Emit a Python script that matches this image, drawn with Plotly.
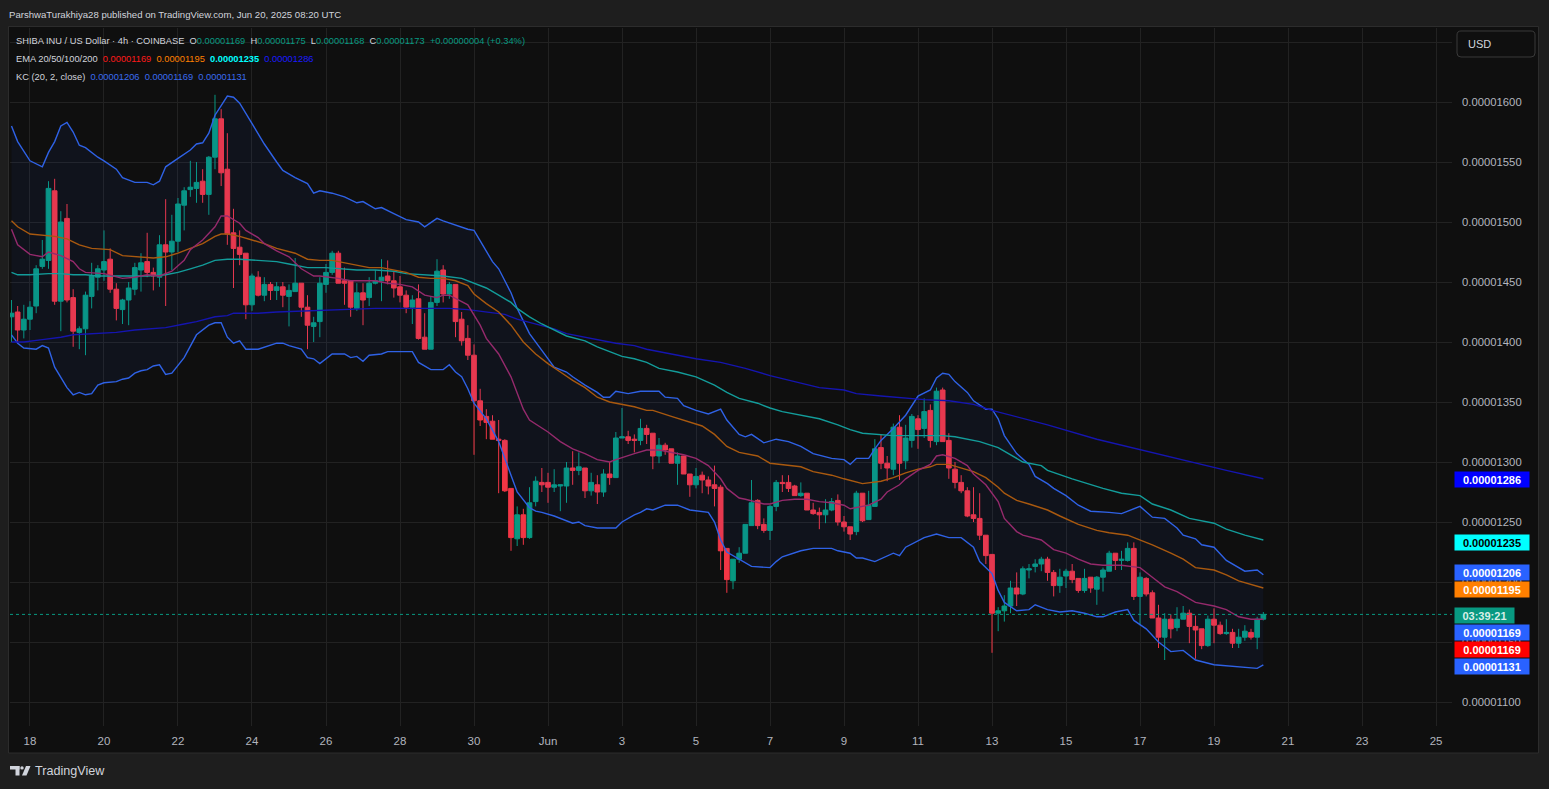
import plotly.graph_objects as go
import pandas as pd

W, H = 1549, 789
S = 1e-8  # all prices below are in units of 0.00000001 USD

# ---------------- data (SHIB/USD 4h, Coinbase) ----------------
FIRST_CANDLE = "2025-05-17 12:00"

OPEN = [1421,1425,1410,1419,1430,1463,1468,1526,1434,1503,
        1437,1408,1411,1438,1454,1460,1469,1444,1427,1435,
        1444,1460,1467,1458,1454,1481,1475,1484,1514,1527,
        1528,1534,1523,1554,1586,1544,1491,1479,1474,1431,
        1454,1439,1448,1443,1446,1438,1442,1449,1429,1413,
        1417,1448,1458,1474,1451,1451,1428,1441,1437,1449,
        1451,1455,1451,1446,1439,1429,1436,1404,1394,1433,
        1460,1440,1448,1419,1403,1389,1351,1338,1334,1319,
        1318,1278,1236,1256,1237,1267,1283,1283,1279,1280,
        1280,1295,1293,1295,1276,1281,1275,1290,1287,1320,
        1321,1319,1318,1328,1324,1305,1314,1311,1299,1305,
        1290,1281,1289,1285,1281,1279,1228,1201,1219,1224,
        1247,1268,1248,1243,1263,1283,1283,1280,1272,1274,
        1260,1258,1256,1260,1268,1250,1246,1242,1274,1252,
        1263,1312,1299,1294,1329,1301,1318,1336,1328,1343,
        1317,1360,1318,1294,1283,1276,1256,1253,1239,1223,
        1174,1176,1180,1195,1190,1210,1213,1215,1219,1208,
        1197,1205,1209,1203,1193,1204,1194,1204,1209,1224,
        1218,1218,1228,1188,1203,1191,1170,1154,1169,1162,
        1169,1174,1163,1161,1147,1169,1164,1157,1158,1149,
        1154,1158,1154,1169]
HIGH = [1435,1430,1431,1434,1464,1485,1534,1536,1509,1515,
        1444,1413,1442,1466,1464,1493,1478,1449,1436,1450,
        1466,1474,1491,1462,1489,1519,1506,1520,1529,1551,
        1550,1544,1555,1606,1594,1574,1511,1493,1474,1457,
        1459,1454,1450,1450,1450,1448,1470,1449,1439,1421,
        1454,1465,1476,1476,1462,1451,1449,1449,1454,1460,
        1469,1468,1459,1455,1443,1439,1448,1424,1438,1469,
        1464,1450,1448,1425,1414,1398,1361,1344,1339,1335,
        1319,1278,1263,1261,1279,1288,1295,1291,1294,1281,
        1300,1309,1308,1295,1291,1289,1294,1300,1325,1345,
        1326,1323,1336,1331,1324,1320,1316,1311,1308,1305,
        1290,1295,1292,1288,1297,1281,1228,1219,1229,1248,
        1285,1269,1253,1264,1285,1289,1289,1281,1283,1274,
        1266,1262,1269,1270,1273,1255,1246,1276,1274,1276,
        1319,1323,1305,1332,1339,1331,1340,1339,1353,1348,
        1362,1362,1324,1300,1289,1279,1279,1274,1239,1223,
        1179,1189,1201,1208,1213,1215,1219,1221,1221,1210,
        1211,1211,1215,1203,1211,1204,1205,1212,1226,1224,
        1226,1233,1233,1208,1204,1193,1181,1174,1173,1179,
        1180,1177,1172,1161,1172,1178,1167,1169,1161,1161,
        1164,1161,1171,1175]
LOW = [1400,1399,1403,1410,1424,1461,1461,1431,1409,1433,
       1396,1394,1389,1428,1443,1451,1441,1418,1415,1414,
       1439,1442,1454,1443,1446,1430,1460,1475,1493,1521,
       1516,1516,1506,1544,1530,1481,1445,1464,1419,1426,
       1438,1434,1435,1435,1429,1413,1442,1421,1394,1400,
       1404,1441,1456,1449,1431,1421,1426,1414,1430,1448,
       1434,1448,1437,1433,1424,1415,1402,1394,1394,1430,
       1433,1436,1404,1397,1385,1306,1330,1319,1319,1274,
       1275,1226,1230,1231,1236,1263,1275,1266,1275,1259,
       1266,1281,1289,1270,1272,1265,1271,1281,1287,1320,
       1315,1308,1314,1315,1294,1299,1306,1299,1281,1290,
       1271,1278,1274,1273,1263,1210,1191,1194,1216,1224,
       1247,1244,1241,1235,1259,1275,1275,1272,1271,1260,
       1256,1244,1249,1259,1247,1242,1235,1239,1250,1252,
       1263,1294,1284,1289,1285,1294,1312,1311,1320,1312,
       1314,1317,1286,1278,1274,1254,1250,1235,1215,1141,
       1159,1167,1174,1180,1189,1203,1208,1209,1201,1188,
       1191,1195,1199,1191,1191,1191,1181,1192,1209,1210,
       1210,1217,1185,1164,1188,1170,1145,1135,1153,1159,
       1169,1149,1136,1144,1146,1149,1156,1156,1145,1145,
       1151,1152,1144,1168]
CLOSE = [1424,1410,1419,1429,1461,1469,1528,1434,1500,1435,
         1409,1411,1439,1455,1461,1467,1444,1428,1435,1445,
         1462,1466,1458,1455,1481,1475,1484,1515,1526,1529,
         1533,1523,1554,1586,1541,1490,1478,1473,1431,1455,
         1439,1448,1443,1446,1439,1443,1449,1429,1414,1416,
         1449,1458,1474,1449,1449,1429,1441,1435,1449,1451,
         1454,1451,1445,1439,1429,1435,1403,1394,1433,1459,
         1440,1448,1417,1401,1389,1351,1335,1333,1319,1318,
         1276,1237,1256,1237,1266,1284,1281,1279,1281,1281,
         1295,1293,1296,1276,1283,1275,1290,1287,1320,1321,
         1318,1318,1328,1323,1305,1314,1310,1299,1305,1290,
         1281,1288,1285,1280,1278,1226,1202,1219,1224,1248,
         1266,1247,1243,1263,1283,1282,1278,1272,1274,1260,
         1257,1256,1260,1267,1250,1246,1240,1274,1251,1264,
         1311,1299,1295,1329,1299,1320,1338,1327,1342,1318,
         1359,1317,1295,1283,1276,1255,1253,1239,1222,1174,
         1176,1180,1195,1190,1211,1211,1215,1219,1208,1197,
         1204,1209,1202,1193,1203,1195,1204,1210,1224,1218,
         1219,1228,1188,1204,1190,1170,1154,1169,1161,1169,
         1174,1163,1160,1147,1169,1164,1157,1158,1149,1154,
         1159,1154,1169,1173]

# indicator readings: (candle index, value)
KC_UPPER = [(0,1580),(1,1567),(3,1551),(5,1546),(6,1558),(7,1567),(8,1580),(9,1583),(10,1575),(11,1564),
            (12,1562),(14,1554),(15,1551),(17,1544),(18,1537),(20,1533),(22,1533),(23,1531),(24,1534),(25,1546),
            (27,1553),(29,1560),(30,1565),(31,1566),(32,1574),(33,1589),(35,1605),(36,1604),(37,1599),(39,1582),
            (41,1565),(43,1550),(44,1543),(46,1537),(48,1532),(49,1524),(50,1526),(52,1524),(54,1521),(56,1516),
            (57,1517),(59,1511),(60,1512),(62,1507),(64,1502),(66,1500),(67,1496),(69,1503),(70,1501),(74,1494),
            (75,1493),(78,1467),(79,1461),(80,1451),(81,1441),(82,1428),(83,1417),(84,1407),(86,1393),(88,1379),
            (90,1375),(91,1371),(93,1364),(95,1358),(96,1354),(97,1354),(98,1359),(100,1357),(102,1359),(105,1359),
            (106,1354),(108,1353),(109,1347),(111,1343),(113,1340),(115,1344),(116,1335),(118,1323),(119,1321),(120,1323),
            (122,1316),(124,1319),(126,1317),(128,1313),(130,1307),(133,1303),(135,1302),(136,1298),(137,1303),(139,1303),
            (140,1311),(141,1318),(143,1328),(145,1339),(147,1355),(149,1360),(150,1370),(151,1374),(152,1373),(153,1367),
            (155,1358),(156,1351),(158,1344),(159,1344),(160,1336),(161,1322),(163,1307),(165,1298),(166,1288),(168,1282),
            (169,1278),(171,1272),(173,1264),(175,1259),(178,1258),(180,1257),(183,1263),(185,1254),(187,1253),(189,1245),
            (190,1239),(192,1236),(193,1231),(195,1229),(197,1218),(200,1209),(202,1210),(203,1206)]
KC_LOWER = [(0,1406),(1,1399),(2,1395),(4,1394),(5,1397),(6,1395),(7,1379),(9,1362),(10,1356),(11,1358),
            (12,1356),(13,1357),(14,1364),(15,1366),(17,1367),(18,1369),(19,1370),(20,1374),(21,1376),(22,1377),
            (23,1380),(24,1381),(25,1373),(26,1374),(28,1387),(30,1406),(32,1414),(33,1416),(34,1416),(35,1404),
            (36,1399),(37,1401),(38,1394),(40,1394),(43,1399),(44,1399),(45,1397),(47,1394),(48,1387),(49,1386),
            (50,1382),(52,1390),(54,1390),(55,1387),(56,1388),(57,1384),(58,1389),(60,1390),(61,1392),(64,1392),
            (65,1392),(66,1383),(68,1377),(70,1377),(71,1381),(72,1375),(73,1371),(74,1361),(75,1349),(77,1336),
            (79,1317),(81,1289),(82,1275),(84,1262),(85,1259),(86,1258),(88,1255),(91,1249),(92,1250),(93,1247),
            (95,1245),(98,1245),(99,1250),(101,1256),(102,1258),(103,1261),(104,1260),(106,1264),(108,1264),(110,1260),
            (113,1258),(114,1250),(115,1235),(116,1225),(118,1219),(120,1213),(123,1212),(124,1217),(125,1221),(128,1226),
            (130,1228),(133,1228),(134,1226),(136,1224),(137,1220),(138,1220),(140,1217),(142,1222),(143,1224),(144,1222),
            (145,1229),(148,1237),(150,1240),(152,1237),(154,1237),(156,1229),(157,1217),(159,1207),(160,1193),(161,1183),
            (163,1176),(165,1177),(166,1181),(168,1177),(170,1175),(172,1176),(174,1174),(176,1171),(177,1171),(179,1175),
            (181,1177),(182,1168),(184,1161),(186,1150),(188,1142),(190,1143),(192,1135),(195,1131),(197,1130),(200,1129),
            (202,1128),(203,1131)]
EMA20 = [(0,1494),(1,1481),(3,1473),(5,1471),(6,1475),(8,1472),(10,1467),(11,1461),(12,1458),(15,1457),
         (18,1453),(20,1454),(22,1456),(24,1455),(26,1459),(28,1468),(29,1477),(31,1485),(33,1496),(34,1505),
         (35,1505),(37,1499),(38,1493),(40,1487),(41,1482),(43,1476),(45,1471),(47,1461),(49,1455),(50,1455),
         (53,1453),(55,1451),(57,1451),(59,1451),(61,1449),(63,1448),(65,1446),(67,1439),(68,1438),(69,1437),
         (70,1439),(71,1439),(74,1431),(76,1414),(77,1403),(79,1390),(81,1371),(83,1344),(84,1335),(87,1325),
         (89,1317),(91,1311),(93,1307),(95,1302),(97,1300),(98,1302),(101,1307),(103,1310),(105,1310),(107,1308),
         (109,1306),(111,1303),(113,1297),(115,1286),(116,1278),(118,1270),(119,1269),(122,1265),(123,1265),(125,1268),
         (127,1269),(129,1269),(131,1267),(133,1266),(135,1264),(136,1261),(137,1262),(139,1264),(141,1269),(142,1275),
         (144,1281),(145,1286),(147,1293),(149,1298),(150,1305),(151,1306),(153,1303),(155,1297),(156,1290),(158,1281),
         (160,1267),(161,1253),(163,1242),(164,1239),(167,1235),(168,1231),(169,1227),(171,1224),(173,1219),(175,1215),
         (177,1214),(180,1214),(183,1212),(185,1204),(187,1196),(189,1192),(192,1183),(195,1180),(197,1177),(199,1171),
         (201,1169),(203,1169)]
EMA50 = [(0,1501),(1,1496),(3,1490),(5,1489),(7,1488),(9,1486),(11,1481),(13,1478),(16,1477),(18,1472),
         (21,1471),(23,1470),(25,1471),(27,1474),(29,1478),(31,1482),(33,1488),(34,1490),(35,1490),(37,1488),
         (39,1485),(41,1482),(43,1478),(46,1474),(48,1469),(50,1468),(52,1468),(54,1466),(56,1464),(58,1462),
         (60,1462),(62,1460),(64,1458),(66,1454),(68,1453),(70,1453),(72,1451),(74,1447),(75,1440),(77,1432),
         (79,1425),(81,1414),(83,1400),(85,1390),(87,1382),(89,1375),(91,1368),(93,1362),(95,1354),(97,1350),
         (99,1348),(101,1346),(103,1343),(104,1343),(107,1338),(110,1333),(112,1330),(114,1323),(116,1313),(118,1308),
         (121,1305),(123,1299),(125,1298),(128,1296),(130,1292),(133,1289),(135,1286),(137,1283),(138,1282),(141,1284),
         (143,1287),(145,1291),(147,1294),(149,1296),(150,1298),(152,1298),(154,1295),(156,1292),(158,1287),(160,1279),
         (161,1274),(163,1268),(165,1265),(168,1260),(170,1255),(173,1248),(176,1243),(178,1241),(181,1239),(183,1235),
         (185,1231),(188,1224),(190,1219),(192,1212),(195,1210),(197,1206),(199,1201),(203,1195)]
EMA100 = [(0,1458),(1,1456),(3,1456),(6,1457),(8,1457),(10,1456),(12,1456),(14,1455),(16,1455),(20,1455),
          (22,1455),(25,1456),(27,1458),(29,1461),(31,1464),(33,1468),(35,1469),(37,1469),(40,1468),(43,1467),
          (45,1465),(48,1462),(51,1462),(54,1461),(56,1460),(59,1460),(62,1459),(64,1457),(67,1456),(70,1455),
          (73,1453),(75,1449),(77,1445),(79,1439),(81,1433),(82,1428),(84,1421),(86,1415),(88,1410),(90,1405),
          (93,1401),(95,1396),(97,1392),(99,1388),(101,1386),(103,1383),(105,1378),(108,1375),(111,1371),(114,1364),
          (116,1358),(118,1353),(121,1349),(123,1345),(125,1342),(128,1339),(131,1336),(134,1331),(136,1327),(138,1324),
          (141,1323),(143,1322),(146,1322),(149,1322),(151,1322),(153,1321),(155,1319),(157,1317),(160,1312),(162,1306),
          (164,1300),(167,1297),(168,1293),(172,1286),(177,1278),(180,1274),(183,1272),(185,1265),(188,1260),(191,1253),
          (195,1249),(197,1244),(200,1239),(203,1235)]
EMA200 = [(0,1400),(2,1400),(5,1402),(8,1404),(10,1406),(14,1407),(17,1408),(20,1410),(22,1411),(25,1412),
          (28,1415),(30,1417),(33,1421),(35,1422),(36,1424),(40,1424),(43,1425),(48,1426),(54,1427),(59,1428),
          (64,1428),(71,1428),(74,1427),(77,1425),(80,1423),(82,1419),(85,1415),(88,1411),(90,1407),(93,1404),
          (96,1401),(98,1399),(101,1397),(103,1394),(111,1386),(115,1383),(119,1378),(123,1372),(127,1367),(131,1362),
          (135,1360),(137,1357),(141,1355),(145,1353),(148,1352),(152,1351),(156,1348),(159,1343),(162,1339),(165,1335),
          (168,1331),(176,1319),(184,1309),(192,1299),(197,1293),(203,1286)]

EMA_LAST = {20: 1169, 50: 1195, 100: 1235, 200: 1286}
KC_LAST = (1206, 1169, 1131)

TICK_DATES = ["2025-05-18","2025-05-20","2025-05-22","2025-05-24","2025-05-26","2025-05-28","2025-05-30",
              "2025-06-01","2025-06-03","2025-06-05","2025-06-07","2025-06-09","2025-06-11","2025-06-13",
              "2025-06-15","2025-06-17","2025-06-19","2025-06-21","2025-06-23","2025-06-25"]
TICK_TEXT = ["18","20","22","24","26","28","30","Jun","3","5","7","9","11","13","15","17","19","21","23","25"]
PRICE_TICKS = [1100,1150,1200,1250,1300,1350,1400,1450,1500,1550,1600,1650]

# ---------------- styling ----------------
FONT = "Liberation Sans Narrow, Liberation Sans, Arial, sans-serif"
TXT = "#d1d4dc"
AX_TXT = "#b2b5be"
GRID = "#222222"
UP, DOWN = "#089981", "#f23645"
C_KC = "#2f62e6"
C_E20 = "#952a6c"
C_E50 = "#a9590f"
C_E100 = "#139c9a"
C_E200 = "#1515b0"
HDR = 9.3


def fmt(v):
    return f"{v * S:.8f}"


def px(x):
    return x / W


def py(y):
    return 1 - y / H


times = pd.date_range(FIRST_CANDLE, periods=len(OPEN), freq="4h")


def series(p):
    return [times[i] for i, _ in p], [v * S for _, v in p]


fig = go.Figure()
ux, uy = series(KC_UPPER)
lx, ly = series(KC_LOWER)
fig.add_trace(go.Scatter(x=ux, y=uy, mode="lines", line=dict(color=C_KC, width=1.4)))
fig.add_trace(go.Scatter(x=lx, y=ly, mode="lines", line=dict(color=C_KC, width=1.4),
                         fill="tonexty", fillcolor="rgba(41,98,255,0.055)"))
for pts, col in [(EMA200, C_E200), (EMA100, C_E100), (EMA50, C_E50), (EMA20, C_E20)]:
    x, y = series(pts)
    fig.add_trace(go.Scatter(x=x, y=y, mode="lines", line=dict(color=col, width=1.4)))

fig.add_trace(go.Candlestick(
    x=times,
    open=[v * S for v in OPEN], high=[v * S for v in HIGH],
    low=[v * S for v in LOW], close=[v * S for v in CLOSE],
    increasing=dict(line=dict(color=UP, width=1), fillcolor=UP),
    decreasing=dict(line=dict(color=DOWN, width=1), fillcolor=DOWN),
    whiskerwidth=0,
))

shapes = []
# chart panel
shapes.append(dict(type="rect", xref="paper", yref="paper", x0=px(8.5), x1=px(1538.5), y0=py(753), y1=py(26.5),
                   fillcolor="#0f0f0f", line=dict(color="#2c2c2c", width=1), layer="below"))
# current price dotted line
shapes.append(dict(type="line", xref="x domain", yref="y", x0=0, x1=1, y0=CLOSE[-1] * S, y1=CLOSE[-1] * S,
                   line=dict(color=UP, width=1, dash="dot"), layer="above"))


def rrect(x0, y0, x1, y1, r):
    X = lambda v: f"{px(v):.6f}"
    Y = lambda v: f"{py(v):.6f}"
    return (f"M {X(x0 + r)} {Y(y0)} L {X(x1 - r)} {Y(y0)} Q {X(x1)} {Y(y0)} {X(x1)} {Y(y0 + r)} "
            f"L {X(x1)} {Y(y1 - r)} Q {X(x1)} {Y(y1)} {X(x1 - r)} {Y(y1)} L {X(x0 + r)} {Y(y1)} "
            f"Q {X(x0)} {Y(y1)} {X(x0)} {Y(y1 - r)} L {X(x0)} {Y(y0 + r)} Q {X(x0)} {Y(y0)} {X(x0 + r)} {Y(y0)} Z")


shapes.append(dict(type="path", xref="paper", yref="paper", path=rrect(1457, 31, 1535, 57, 4),
                   fillcolor="#0f0f0f", line=dict(color="#3a3a3a", width=1)))


def prect(x0, y0, x1, y1):
    return dict(type="rect", xref="paper", yref="paper", x0=px(x0), x1=px(x1), y0=py(y1), y1=py(y0),
                fillcolor=TXT, line=dict(width=0))


# TradingView logo glyph (bottom left)
shapes.append(prect(10, 766, 19.5, 769.5))
shapes.append(prect(15.5, 766, 19.5, 775.5))
shapes.append(dict(type="circle", xref="paper", yref="paper", x0=px(20.3), x1=px(23.7), y0=py(769.6), y1=py(766.2),
                   fillcolor=TXT, line=dict(width=0)))
shapes.append(dict(type="path", xref="paper", yref="paper",
                   path=f"M {px(26)} {py(766)} L {px(30.5)} {py(766)} L {px(26.5)} {py(775.5)} L {px(22)} {py(775.5)} Z",
                   fillcolor=TXT, line=dict(width=0)))

ann = []
sp = "\u00a0\u00a0"
ann.append(dict(x=px(7), y=py(14), text="ParshwaTurakhiya28 published on TradingView.com, Jun 20, 2025 08:20 UTC",
                font=dict(family=FONT, size=9.6, color=TXT)))

o, h, l, c = OPEN[-1], HIGH[-1], LOW[-1], CLOSE[-1]
chg = c - CLOSE[-2]
pct = chg / CLOSE[-2] * 100
g = f"<span style='color:{UP}'>"
row1 = (f"SHIBA INU / US Dollar · 4h · COINBASE{sp}O{g}{fmt(o)}</span>{sp}H{g}{fmt(h)}</span>{sp}"
        f"L{g}{fmt(l)}</span>{sp}C{g}{fmt(c)}</span>{sp}{g}+{fmt(chg)} (+{pct:.2f}%)</span>")
ann.append(dict(x=px(14), y=py(41.5), text=row1, font=dict(family=FONT, size=HDR, color=TXT)))
row2 = (f"EMA 20/50/100/200{sp}<span style='color:#ff1a1a'>{fmt(EMA_LAST[20])}</span>{sp}"
        f"<span style='color:#ff8000'>{fmt(EMA_LAST[50])}</span>{sp}"
        f"<span style='color:#00ffff'><b>{fmt(EMA_LAST[100])}</b></span>{sp}"
        f"<span style='color:#1a1aff'>{fmt(EMA_LAST[200])}</span>")
ann.append(dict(x=px(14), y=py(59), text=row2, font=dict(family=FONT, size=HDR, color=TXT)))
kb = "<span style='color:#3a6cf0'>"
row3 = (f"KC (20, 2, close){sp}{kb}{fmt(KC_LAST[0])}</span>{sp}{kb}{fmt(KC_LAST[1])}</span>{sp}"
        f"{kb}{fmt(KC_LAST[2])}</span>")
ann.append(dict(x=px(14), y=py(76.5), text=row3, font=dict(family=FONT, size=HDR, color=TXT)))

ann.append(dict(x=px(1466), y=py(44), text="USD", font=dict(family=FONT, size=11, color=TXT)))
ann.append(dict(x=px(33), y=py(771), text="TradingView", font=dict(family=FONT, size=12.6, color=TXT)))

# right-hand value labels
labels = [
    (fmt(EMA_LAST[200]), "#0000ff", "#ffffff", 479.5, 74),
    (fmt(EMA_LAST[100]), "#00ffff", "#000000", 542, 74),
    (fmt(KC_LAST[0]), "#2962ff", "#ffffff", 572.5, 74),
    (fmt(EMA_LAST[50]), "#ff7f00", "#ffffff", 589.5, 74),
    ("03:39:21", "#089981", "#d7efe8", 615.5, 59),
    (fmt(KC_LAST[1]), "#2962ff", "#ffffff", 632.5, 74),
    (fmt(EMA_LAST[20]), "#ff0000", "#ffffff", 649.5, 74),
    (fmt(KC_LAST[2]), "#2962ff", "#ffffff", 666.5, 74),
]
for txt, bg, fg, yc, wd in labels:
    ann.append(dict(x=px(1454), y=py(yc), text=f"<b>{txt}</b>", bgcolor=bg, width=wd, height=15,
                    borderpad=0, align="center", font=dict(family=FONT, size=11, color=fg)))

for a in ann:
    a.setdefault("xref", "paper")
    a.setdefault("yref", "paper")
    a.setdefault("xanchor", "left")
    a.setdefault("yanchor", "middle")
    a.setdefault("showarrow", False)

fig.update_layout(
    width=W, height=H, margin=dict(l=0, r=0, t=0, b=0),
    paper_bgcolor="#1e1e1e", plot_bgcolor="rgba(0,0,0,0)",
    showlegend=False, hovermode=False,
    boxgap=0.2, boxgroupgap=0.05,
    shapes=shapes, annotations=ann,
    xaxis=dict(domain=[px(10), px(1452)], type="date",
               range=["2025-05-17 11:02", "2025-06-25 10:22"],
               tickvals=TICK_DATES, ticktext=TICK_TEXT, ticks="",
               showgrid=True, gridcolor=GRID, gridwidth=1, zeroline=False, showline=False,
               tickfont=dict(family=FONT, size=11.5, color=AX_TXT), ticklabelstandoff=6,
               rangeslider=dict(visible=False), fixedrange=True),
    yaxis=dict(domain=[py(726), py(28)], side="right",
               range=[1080 * S, 1661.67 * S],
               tickvals=[v * S for v in PRICE_TICKS],
               ticktext=[fmt(v) if v < 1650 else "" for v in PRICE_TICKS], ticks="",
               showgrid=True, gridcolor=GRID, gridwidth=1, zeroline=False, showline=False,
               tickfont=dict(family=FONT, size=11.3, color=AX_TXT), ticklabelstandoff=9,
               fixedrange=True),
)

fig.write_html("out.html", config={"displayModeBar": False},
               post_script="document.body.style.margin='0';document.body.style.background='#1e1e1e';")
